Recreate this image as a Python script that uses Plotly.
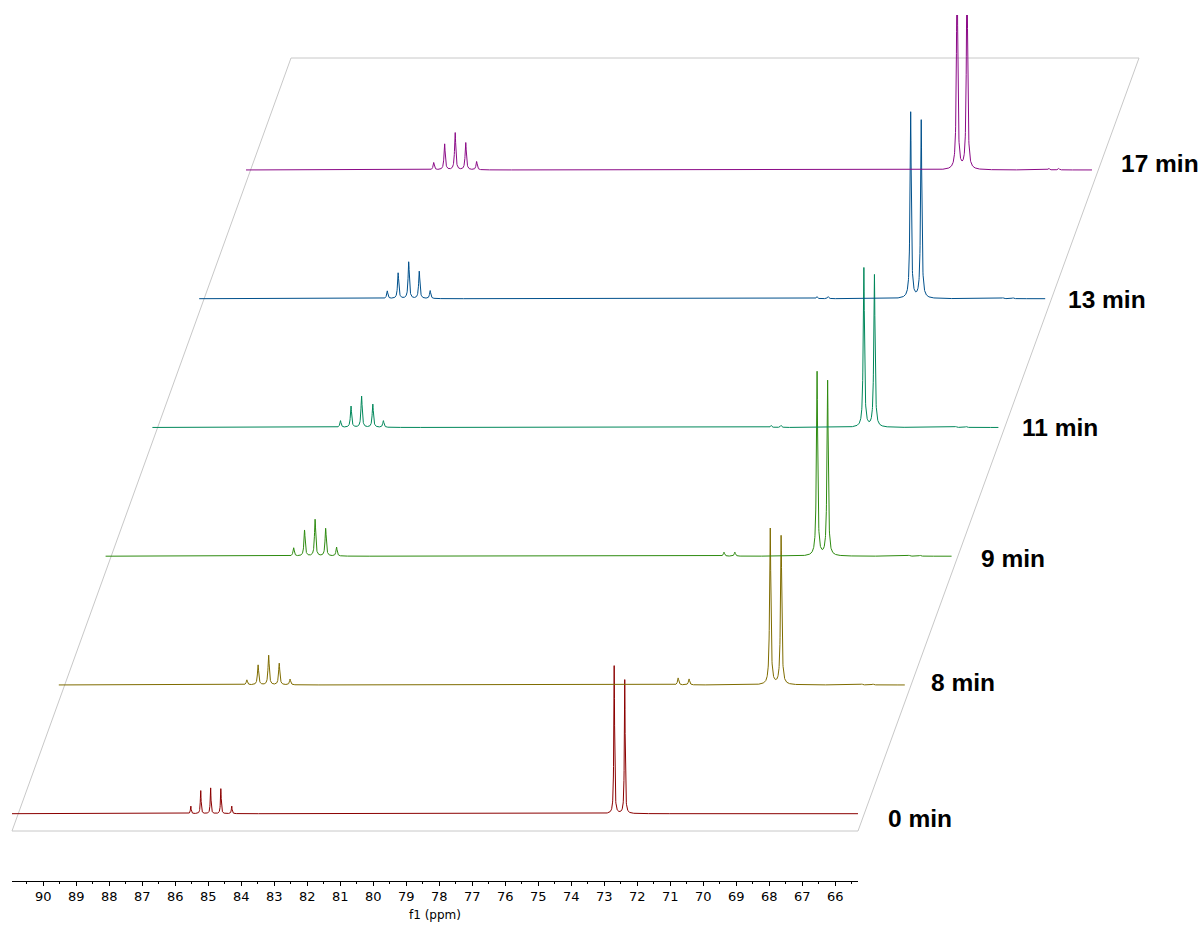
import numpy as np
import plotly.graph_objects as go

# ---------------- data ----------------
labels = ["0 min", "8 min", "9 min", "11 min", "13 min", "17 min"]

peaks_0min_ppm = [85.53, 85.23, 84.93, 84.62, 84.29, 72.70, 72.38]
peaks_0min_h = [7.6, 23.3, 26.0, 25.0, 7.6, 148.0, 134.0]

peaks_8min_ppm = [85.25, 84.91, 84.59, 84.27, 83.94, 72.18, 71.85, 69.39, 69.06, 66.61, 66.28]
peaks_8min_h = [5.0, 20.0, 29.7, 21.7, 5.7, 7.0, 6.0, 157.0, 149.0, 1.0, 1.0]

peaks_9min_ppm = [85.25, 84.92, 84.60, 84.28, 83.95, 72.21, 71.88, 69.39, 69.07, 66.60, 66.27]
peaks_9min_h = [8.3, 26.0, 36.7, 27.7, 9.0, 4.0, 4.0, 185.0, 176.0, 1.0, 1.0]

peaks_11min_ppm = [85.25, 84.93, 84.61, 84.27, 83.95, 72.20, 71.90, 69.39, 69.07, 66.60, 66.29]
peaks_11min_h = [6.7, 21.3, 31.3, 23.3, 6.7, 2.0, 2.0, 160.0, 153.0, 1.0, 1.0]

peaks_13min_ppm = [85.25, 84.92, 84.60, 84.28, 83.95, 72.23, 71.89, 69.39, 69.07, 66.59, 66.29]
peaks_13min_h = [7.7, 25.7, 36.7, 27.3, 8.0, 2.0, 2.0, 187.0, 179.0, 1.0, 1.0]

peaks_17min_ppm = [85.26, 84.93, 84.61, 84.29, 83.96, 69.40, 69.10, 66.62, 66.32]
peaks_17min_h = [7.3, 26.0, 37.3, 27.3, 8.3, 215.0, 210.0, 1.5, 1.5]

half_widths = [0.014, 0.022, 0.022, 0.022, 0.022, 0.022]  # ppm (HWHM)

colors = ["#8b0000", "#7f6c00", "#2e8b10", "#00875a", "#00508c", "#8b0a87"]

axis_ticks = list(range(66, 91))

series_ppm = [peaks_0min_ppm, peaks_8min_ppm, peaks_9min_ppm,
              peaks_11min_ppm, peaks_13min_ppm, peaks_17min_ppm]
series_h = [peaks_0min_h, peaks_8min_h, peaks_9min_h,
            peaks_11min_h, peaks_13min_h, peaks_17min_h]

# ---------------- layout geometry ----------------
W, H = 1203, 927
S = 33.0          # px per ppm
X90_PX = 43.3     # pixel of the 90 ppm tick


def ppm_at(px):
    return 90 - (px - X90_PX) / S


AX_L, AX_R = 12, 858
ppm_left, ppm_right = ppm_at(AX_L), ppm_at(AX_R)
DX = 46.8 / S            # horizontal stacking offset (ppm)
BASE0 = H - 813.7        # baseline of the first spectrum (y units = px)
STEP = 128.75            # vertical stacking offset

fig = go.Figure()

# frame (parallelogram)
fx = [ppm_at(12), ppm_at(858), ppm_at(1139), ppm_at(291), ppm_at(12)]
fy = [H - 831, H - 831, H - 58, H - 58, H - 831]
fig.add_trace(go.Scatter(x=fx, y=fy, xaxis="x", yaxis="y", mode="lines",
                         line=dict(color="#c8c8c8", width=1), hoverinfo="skip",
                         showlegend=False))

grid = np.arange(ppm_left, ppm_right, -0.004)
for k, (pp, hh) in enumerate(zip(series_ppm, series_h)):
    y = np.zeros_like(grid)
    w = half_widths[k]
    for p, h in zip(pp, hh):
        y += h / (1 + ((grid - p) / w) ** 2)
    fig.add_trace(go.Scatter(
        x=grid - k * DX, y=y + BASE0 + k * STEP, xaxis="x", yaxis="y",
        mode="lines", line=dict(color=colors[k], width=1),
        name=labels[k], showlegend=False, hoverinfo="skip"))

# dummy trace to keep the bottom ppm axis alive
fig.add_trace(go.Scatter(x=[ppm_left, ppm_right], y=[None, None], xaxis="x2", yaxis="y",
                         mode="lines", showlegend=False, hoverinfo="skip"))

label_px = [(886, 818), (929, 682), (979, 558), (1020, 428), (1066, 299), (1119, 164)]
for (lx, ly), t in zip(label_px, labels):
    fig.add_annotation(x=lx / W, y=1 - ly / H, xref="paper", yref="paper",
                       text="<b>%s</b>" % t, showarrow=False, xanchor="left",
                       yanchor="middle",
                       font=dict(family="Liberation Sans, Arial", size=24.5, color="black"))

fig.update_layout(
    width=W, height=H, margin=dict(l=0, r=0, t=0, b=0),
    paper_bgcolor="white", plot_bgcolor="rgba(0,0,0,0)",
    xaxis2=dict(domain=[AX_L / W, AX_R / W], range=[ppm_left, ppm_right],
                anchor="free", position=1 - 880.7 / H,
                tickvals=axis_ticks, ticktext=[str(t) for t in axis_ticks],
                ticks="outside", ticklen=4, tickcolor="black",
                minor=dict(dtick=0.5, ticklen=2, ticks="outside", tickcolor="black"),
                showline=True, linecolor="black", linewidth=1,
                showgrid=False, zeroline=False,
                tickfont=dict(family="DejaVu Sans, Verdana", size=13, color="black"),
                title=dict(text="f1 (ppm)", standoff=7,
                           font=dict(family="DejaVu Sans, Verdana", size=12, color="black"))),
    xaxis=dict(domain=[0, 1], range=[ppm_at(0), ppm_at(W)],
               anchor="y", visible=False),
    yaxis=dict(domain=[0, 1 - 15 / H], range=[0, H - 15], visible=False),
    showlegend=False,
)

fig.write_html("out.html")
